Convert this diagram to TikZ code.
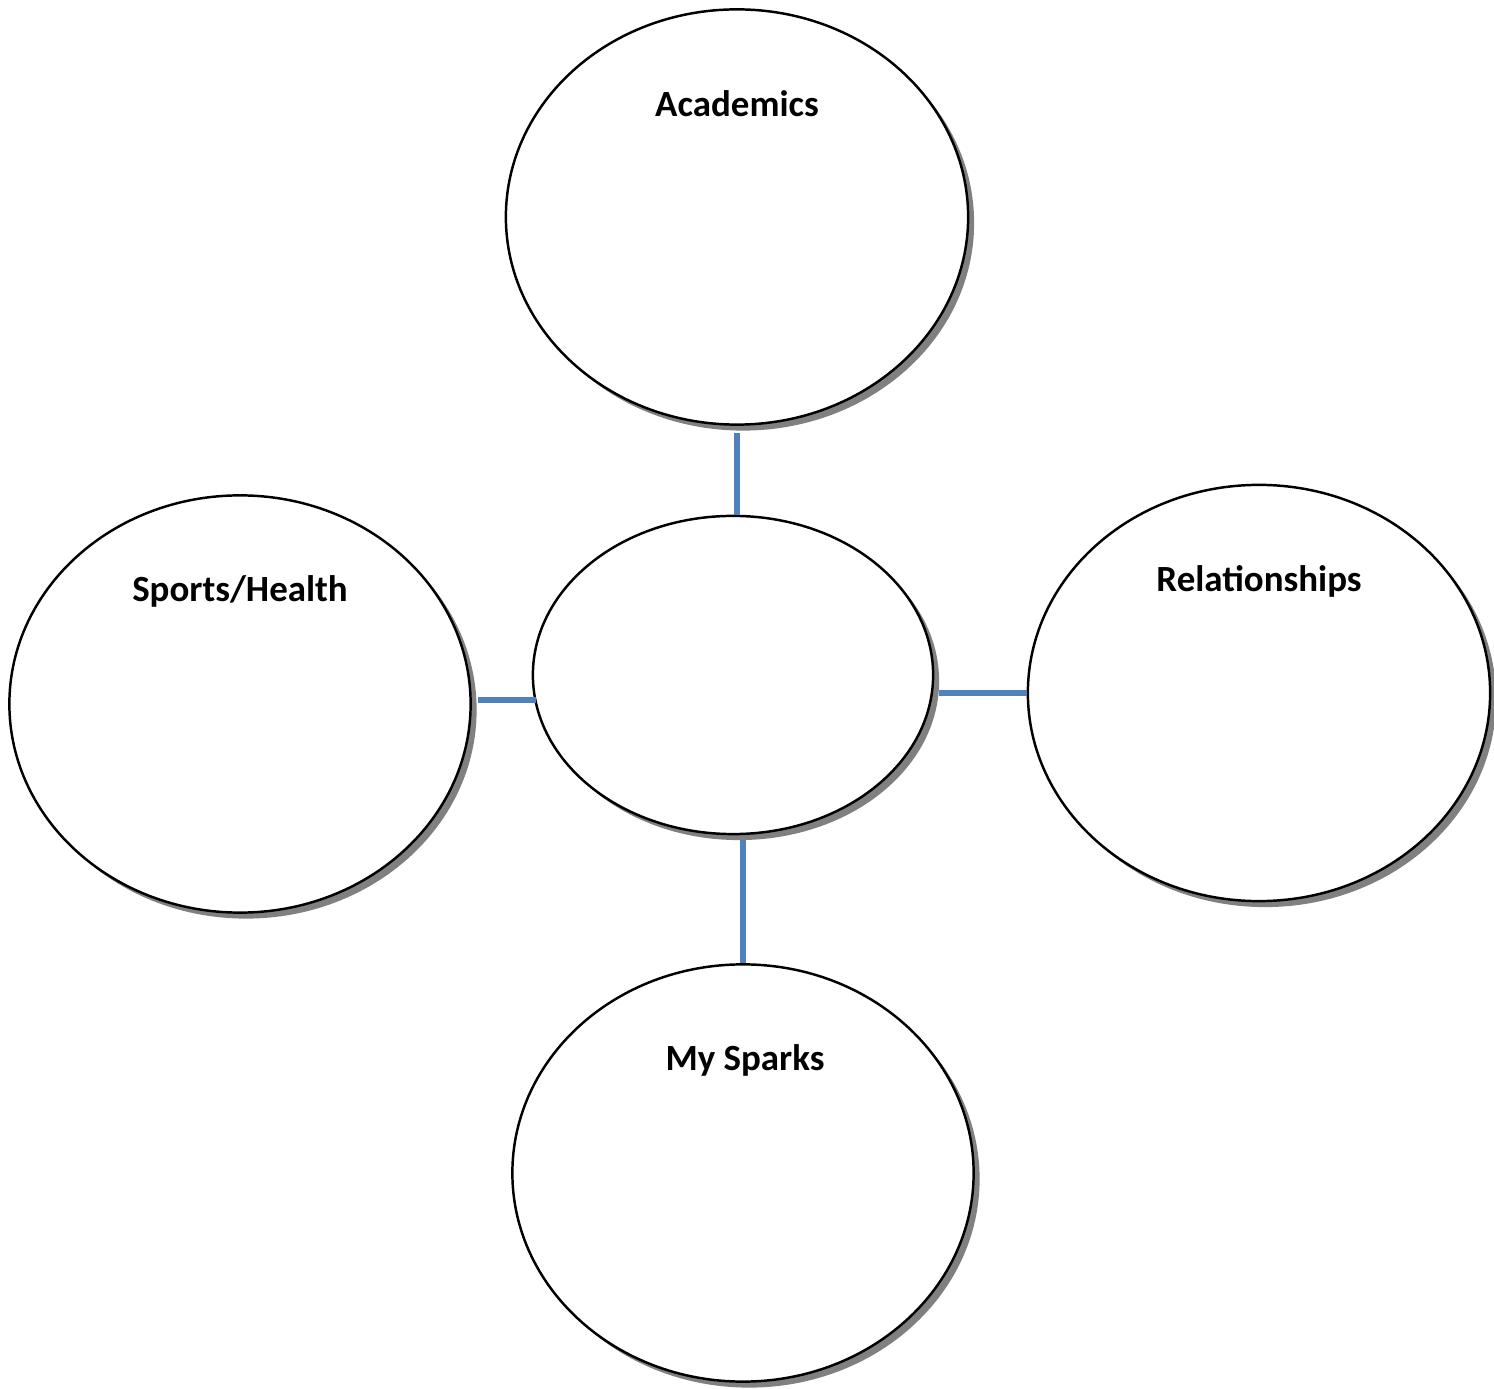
\documentclass[tikz,border=0pt]{standalone}
\usepackage{fontspec}
\setmainfont{Carlito}
\usetikzlibrary{shapes.geometric,shadows}

\definecolor{linkblue}{HTML}{4F81BD}
\definecolor{shadowgray}{HTML}{808080}

\tikzset{
	bubble/.style={ellipse, draw, line width=0.7pt, fill=white, inner sep=0pt,
		drop shadow={shadow xshift=0.06cm, shadow yshift=-0.06cm, opacity=1, fill=shadowgray}},
	title/.style={font=\fontsize{10.5}{12}\selectfont\bfseries},
	link/.style={draw=linkblue, line width=1.6pt}
}

\begin{document}
\begin{tikzpicture}[x=0.01cm, y=-0.01cm]
\useasboundingbox (0,0) rectangle (1494,1389);

% Bubbles
\node[bubble, minimum width=4.62cm, minimum height=4.15cm] (acad) at (737,217) {};
\node[bubble, minimum width=4.00cm, minimum height=3.18cm] (core) at (733,675) {};
\node[bubble, minimum width=4.61cm, minimum height=4.17cm] (sports) at (240,704) {};
\node[bubble, minimum width=4.62cm, minimum height=4.16cm] (rel) at (1259,693) {};
\node[bubble, minimum width=4.61cm, minimum height=4.17cm] (sparks) at (743,1173) {};

% Titles
\node[title] (acadtxt) at (737,104) {Academics};
\node[title] (sportstxt) at (240,591) {Sports/Health};
\node[title] (reltxt) at (1259,581) {Relationships};
\node[title] (sparkstxt) at (745,1060) {My Sparks};

% Links
\draw[link] ([yshift=-0.07cm]acad.south) -- (acad.south |- core.north);
\draw[link] ([xshift=0.06cm, yshift=0.04cm]sports.east) -- ([xshift=0.04cm, yshift=0.04cm]sports.east -| core.west);
\draw[link] ([xshift=0.05cm]rel.west -| core.east) -- (rel.west);
\draw[link] ([yshift=-0.05cm]sparks.north |- core.south) -- (sparks.north);
\end{tikzpicture}
\end{document}
